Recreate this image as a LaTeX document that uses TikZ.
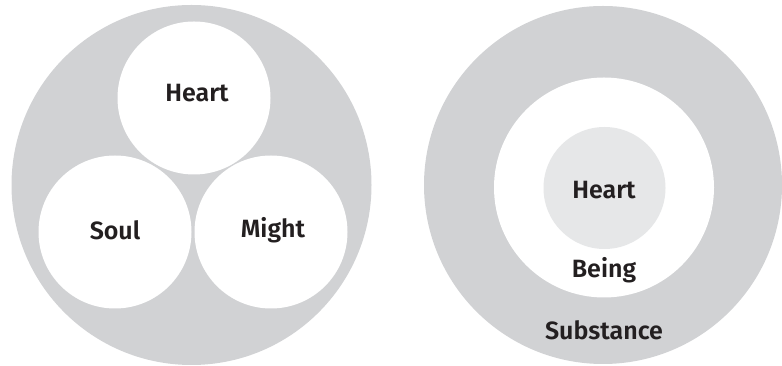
\documentclass[tikz,border=0pt]{standalone}
\usepackage{fontspec}
\setmainfont{Fira Sans}[UprightFont=* SemiBold, BoldFont=* Bold]
\definecolor{outergray}{HTML}{D1D2D4}
\definecolor{innergray}{HTML}{E6E7E8}
\definecolor{txt}{HTML}{231F20}
\begin{document}
\begin{tikzpicture}[x=1pt,y=1pt,
  lbl/.style={text=txt,font=\fontsize{25}{29}\selectfont},
  disc/.style={circle,inner sep=0pt,draw=none}]
\useasboundingbox (0,0) rectangle (782,366);
% left
\node[disc,fill=outergray,minimum size=360] (L) at (191.5,181) {};
\node[disc,fill=white,minimum size=153] (h1) at (194,268) {};
\node[disc,fill=white,minimum size=153] (s1) at (115,134) {};
\node[disc,fill=white,minimum size=153] (m1) at (271,134) {};
\node[lbl] (th1) at (197,273) {Heart};
\node[lbl] (ts1) at (115,136) {Soul};
\node[lbl] (tm1) at (273,136) {Might};
% right
\node[disc,fill=outergray,minimum size=358] (R) at (603,181) {};
\node[disc,fill=white,minimum size=220] (B) at (604,178.5) {};
\node[disc,fill=innergray,minimum size=122] (H2) at (604.5,178) {};
\node[lbl] (th2) at (604,176) {Heart};
\node[lbl] (tb) at (604,96) {Being};
\node[lbl] (tsu) at (604,36) {Substance};
\end{tikzpicture}
\end{document}
